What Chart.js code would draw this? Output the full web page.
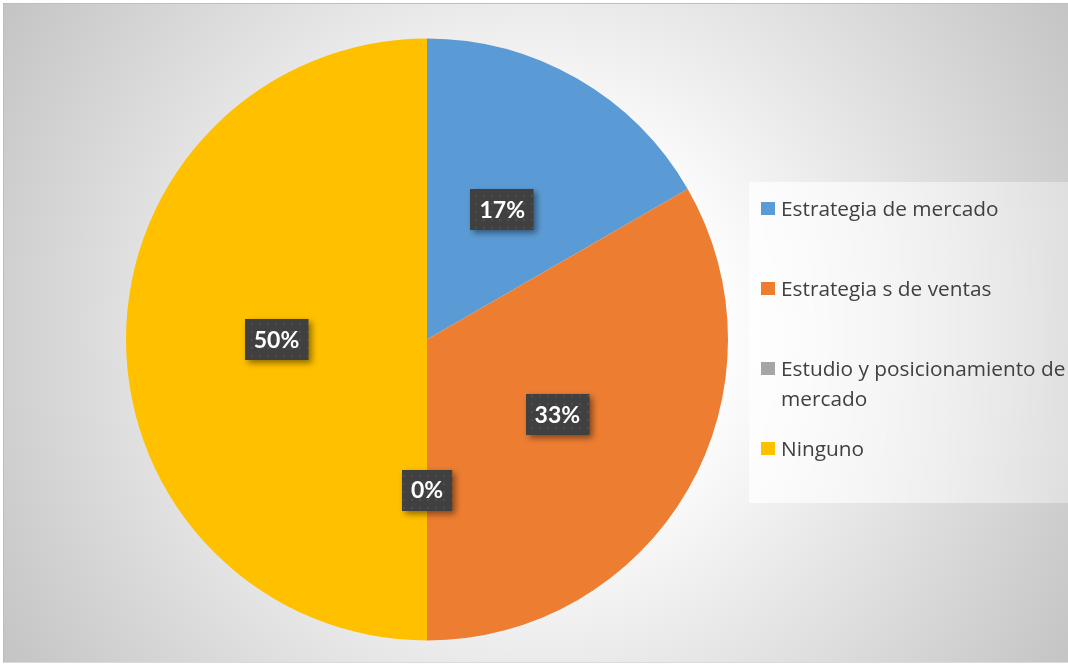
<!DOCTYPE html>
<html>
<head>
<meta charset="utf-8">
<script src="https://cdn.jsdelivr.net/npm/chart.js@4"></script>
<style>
  html, body { margin: 0; padding: 0; background: #fff; }
  body { width: 1068px; height: 664px; position: relative; overflow: hidden; }
  #frame {
    position: absolute; left: 3px; top: 3px; width: 1066px; height: 658px;
    border-top: 1px solid #bdbdbd; border-left: 1px solid #bdbdbd; border-bottom: 1px solid #dadada;
    background: radial-gradient(circle farthest-corner at 50% 50%, #ffffff 0%, #fdfdfd 30%, #c4c4c4 100%);
  }
  #chart { position: absolute; left: 0; top: 0; }
  #legend {
    position: absolute; left: 749px; top: 182px; width: 319px; height: 321px;
    background: linear-gradient(90deg, rgba(255,255,255,0.75), rgba(255,255,255,0.35));
    box-sizing: border-box; padding-top: 11px; padding-left: 12px;
    font-family: "Open Sans", "Noto Sans", sans-serif; font-size: 20.8px; color: #404040;
  }
  .item { display: flex; align-items: flex-start; line-height: 30px; height: 80px; }
  .swatch { width: 14px; height: 13px; margin-top: 9px; margin-right: 6px; flex: none; }
  .text { width: 300px; }
</style>
</head>
<body>
<div id="frame"></div>
<canvas id="chart" width="1068" height="664"></canvas>
<div id="legend"></div>
<script>
const categories = [
  "Estrategia de mercado",
  "Estrategia s de ventas",
  "Estudio y posicionamiento de mercado",
  "Ninguno",
];
const counts = [1, 2, 0, 3];
const percentLabels = ["17%", "33%", "0%", "50%"];
const colors = ["#5B9BD5", "#ED7D31", "#A5A5A5", "#FFC000"];

// legend on the right, one fixed-height row per category
const legend = document.getElementById("legend");
categories.forEach((name, i) => {
  const item = document.createElement("div");
  item.className = "item";
  item.innerHTML =
    '<span class="swatch" style="background:' + colors[i] + '"></span>' +
    '<span class="text">' + name + "</span>";
  legend.appendChild(item);
});

// dark dotted fill for the value boxes
function dotPattern(ctx) {
  const c = document.createElement("canvas");
  c.width = 8;
  c.height = 8;
  const p = c.getContext("2d");
  p.fillStyle = "#404040";
  p.fillRect(0, 0, 8, 8);
  p.fillStyle = "#4e4e4e";
  p.fillRect(3, 3, 2, 2);
  return ctx.createPattern(c, "repeat");
}

const valueBoxes = {
  id: "valueBoxes",
  afterDatasetsDraw(chart) {
    const ctx = chart.ctx;
    const meta = chart.getDatasetMeta(0);
    const fill = dotPattern(ctx);
    ctx.save();
    ctx.font = "bold 23px Lato, 'Noto Sans', sans-serif";
    ctx.textAlign = "center";
    ctx.textBaseline = "middle";
    meta.data.forEach((arc, i) => {
      const pos = arc.tooltipPosition();
      const text = percentLabels[i];
      const w = ctx.measureText(text).width + 18;
      const h = 41;
      const x = Math.round(pos.x - w / 2);
      const y = Math.round(pos.y - h / 2);
      ctx.save();
      ctx.shadowColor = "rgba(0,0,0,0.45)";
      ctx.shadowBlur = 6;
      ctx.shadowOffsetX = 3;
      ctx.shadowOffsetY = 3;
      ctx.fillStyle = fill;
      ctx.fillRect(x, y, w, h);
      ctx.restore();
      ctx.fillStyle = "#ffffff";
      ctx.fillText(text, pos.x, pos.y + 1);
    });
    ctx.restore();
  },
};

new Chart(document.getElementById("chart"), {
  type: "pie",
  data: {
    labels: categories,
    datasets: [
      {
        data: counts,
        backgroundColor: colors,
        borderWidth: 0,
        hoverBorderWidth: 0,
        hoverOffset: 0,
      },
    ],
  },
  options: {
    responsive: false,
    animation: false,
    events: [],
    layout: { padding: { left: 126, right: 340, top: 38, bottom: 23 } },
    plugins: {
      legend: { display: false },
      tooltip: { enabled: false },
    },
  },
  plugins: [valueBoxes],
});
</script>
</body>
</html>
